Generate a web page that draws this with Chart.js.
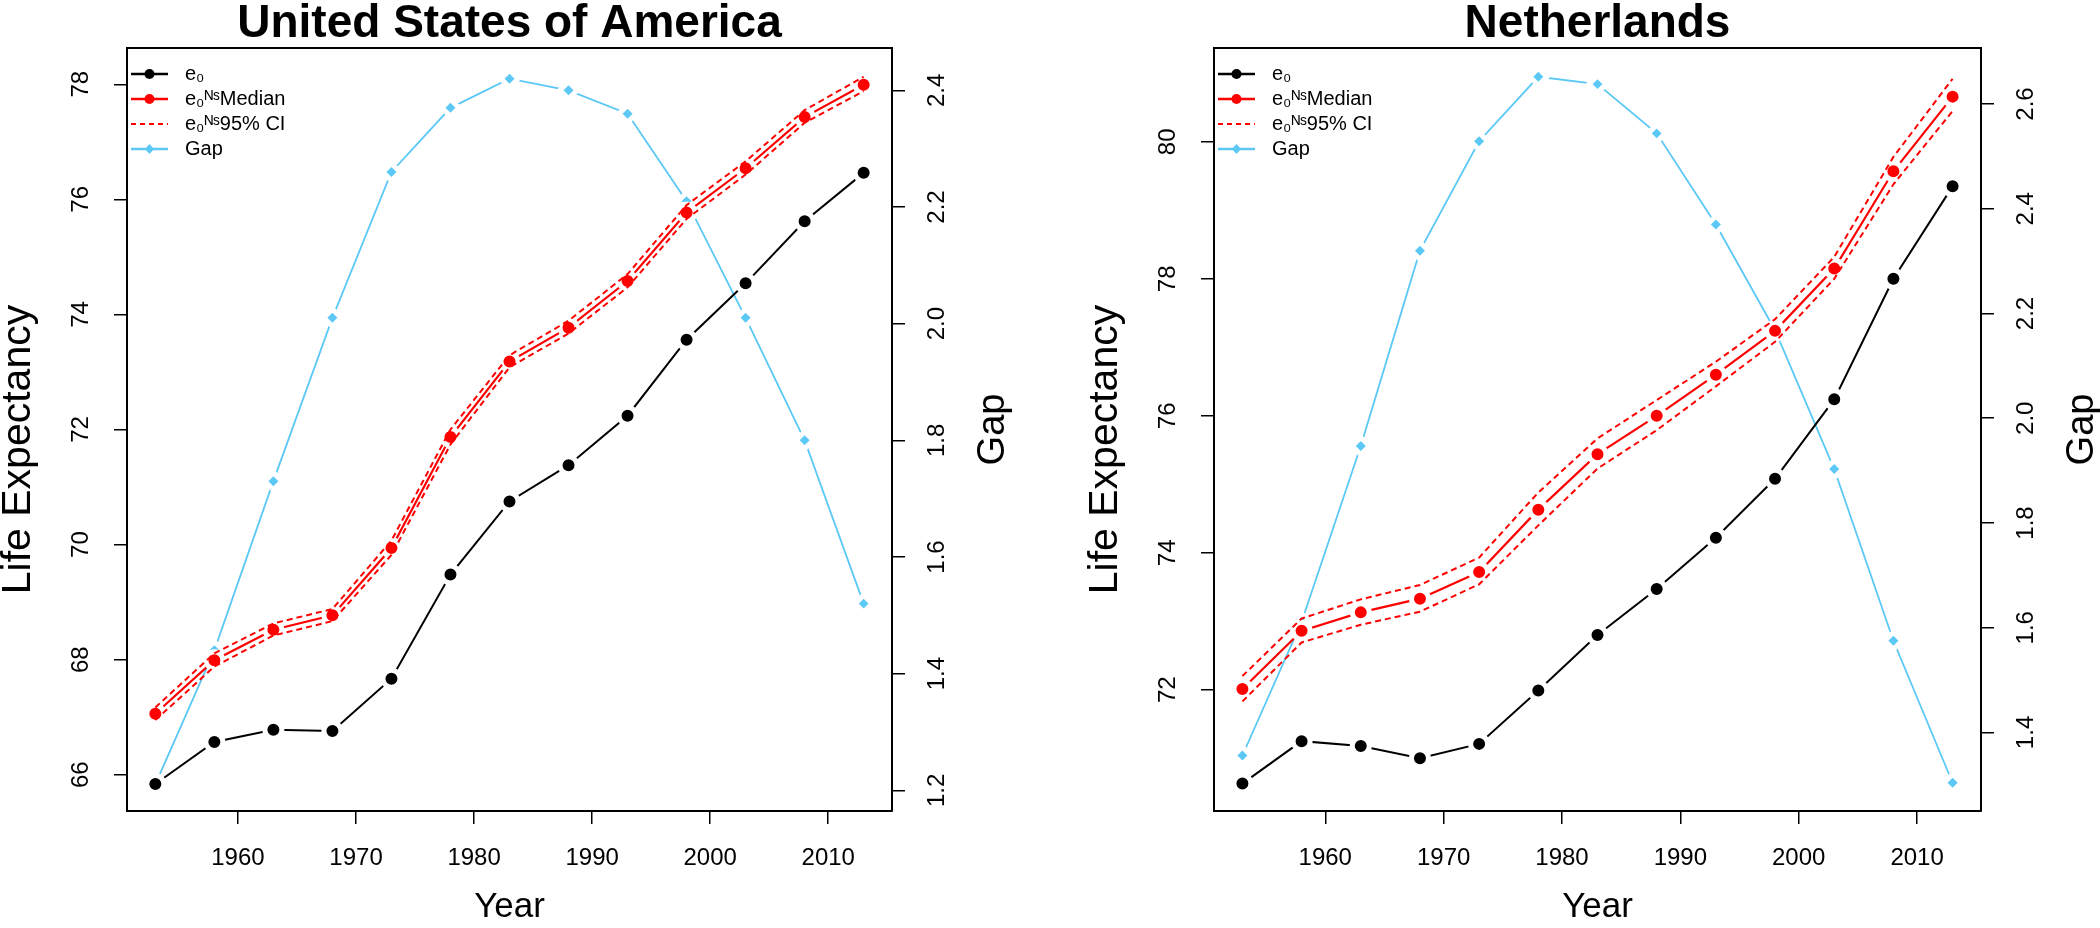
<!DOCTYPE html>
<html>
<head>
<meta charset="utf-8">
<script src="https://cdn.jsdelivr.net/npm/chart.js@4.4.1/dist/chart.umd.min.js"></script>
<style>
  html, body { margin: 0; padding: 0; background: #fff; }
  #wrap { position: relative; width: 2100px; height: 928px; }
  .panel { position: absolute; top: 0; width: 1050px; height: 928px; }
  #panel-usa { left: 0; }
  #panel-nld { left: 1050px; }
</style>
</head>
<body>
<div id="wrap">
  <div class="panel" id="panel-usa"><canvas id="chart-usa" width="1050" height="928"></canvas></div>
  <div class="panel" id="panel-nld"><canvas id="chart-nld" width="1050" height="928"></canvas></div>
</div>
<script>
// Life expectancy vs. NS-projected life expectancy, two countries
const YEARS      = [1953, 1958, 1963, 1968, 1973, 1978, 1983, 1988, 1993, 1998, 2003, 2008, 2013];
const YEAR_TICKS = [1960, 1970, 1980, 1990, 2000, 2010];

// United States of America
const US_E0     = [65.84, 66.57, 66.78, 66.76, 67.67, 69.48, 70.75, 71.38, 72.24, 73.56, 74.54, 75.62, 76.46];
const US_MEDIAN = [67.06, 67.99, 68.52, 68.77, 69.94, 71.87, 73.18, 73.77, 74.58, 75.77, 76.54, 77.43, 77.99];
const US_LOWER  = [66.95, 67.88, 68.42, 68.67, 69.82, 71.74, 73.08, 73.67, 74.47, 75.66, 76.43, 77.33, 77.88];
const US_UPPER  = [67.17, 68.11, 68.63, 68.88, 70.07, 72.00, 73.29, 73.89, 74.70, 75.90, 76.66, 77.55, 78.13];
const US_GAP    = [1.21, 1.44, 1.73, 2.01, 2.26, 2.37, 2.42, 2.40, 2.36, 2.21, 2.01, 1.80, 1.52];
const US_LEFT_TICKS  = [66, 68, 70, 72, 74, 76, 78];
const US_RIGHT_TICKS = [1.2, 1.4, 1.6, 1.8, 2.0, 2.2, 2.4];

// Netherlands
const NL_E0     = [70.63, 71.25, 71.18, 71.00, 71.21, 71.99, 72.80, 73.47, 74.22, 75.08, 76.24, 78.00, 79.35];
const NL_MEDIAN = [72.01, 72.86, 73.13, 73.33, 73.72, 74.63, 75.44, 76.00, 76.60, 77.24, 78.15, 79.57, 80.66];
const NL_LOWER  = [71.83, 72.69, 72.95, 73.14, 73.54, 74.40, 75.23, 75.79, 76.43, 77.08, 78.00, 79.38, 80.45];
const NL_UPPER  = [72.20, 73.04, 73.32, 73.53, 73.93, 74.88, 75.67, 76.23, 76.79, 77.41, 78.32, 79.78, 80.92];
const NL_GAP    = [1.356, 1.611, 1.947, 2.32, 2.529, 2.652, 2.638, 2.544, 2.37, 2.168, 1.903, 1.575, 1.304];
const NL_LEFT_TICKS  = [72, 74, 76, 78, 80];
const NL_RIGHT_TICKS = [1.4, 1.6, 1.8, 2.0, 2.2, 2.4, 2.6];

const LEGEND_TEXT = ['e\u2080', 'e\u2080\u1D3A\u02E2Median', 'e\u2080\u1D3A\u02E295% CI', 'Gap'];

const FONT = "'Liberation Sans', Arial, Helvetica, sans-serif";
const COLORS = { e0: '#000000', median: '#FF0000', gap: '#5BC8F5' };

function pts(values) {
  return YEARS.map((x, i) => ({ x, y: values[i] }));
}

function legendIcon(kind, color) {
  const c = document.createElement('canvas');
  c.width = 47; c.height = 14;
  const g = c.getContext('2d');
  g.strokeStyle = color; g.fillStyle = color;
  g.lineWidth = kind === 'dash' ? 2 : 2.5;
  if (kind === 'dash') g.setLineDash([5, 4]);
  g.beginPath(); g.moveTo(1, 7); g.lineTo(38, 7); g.stroke();
  g.setLineDash([]);
  if (kind === 'dot') {
    g.beginPath(); g.arc(19.5, 7, 5, 0, Math.PI * 2); g.fill();
  } else if (kind === 'diamond') {
    g.beginPath(); g.moveTo(19.5, 2); g.lineTo(24, 7); g.lineTo(19.5, 12); g.lineTo(15, 7); g.closePath(); g.fill();
  }
  return c;
}

// both side titles read bottom-to-top, as in R, so they are drawn here
const sideTitles = {
  id: 'sideTitles',
  afterDraw(chart, _args, opts) {
    const { ctx, chartArea } = chart;
    const midY = (chartArea.top + chartArea.bottom) / 2;
    const put = (text, size, x, y) => {
      ctx.save();
      ctx.translate(x, y);
      ctx.rotate(-Math.PI / 2);
      ctx.font = `${size}px ${FONT}`;
      ctx.fillStyle = '#000';
      ctx.textAlign = 'center';
      ctx.textBaseline = 'middle';
      ctx.fillText(text, 0, 0);
      ctx.restore();
    };
    put(opts.left, opts.leftSize, chartArea.left - 108, midY + opts.leftShift);
    put(opts.right, opts.rightSize, chartArea.right + 102, midY);
  },
};

function axisTicks(values) {
  return s => { s.ticks = values.map(v => ({ value: v })); };
}

function legendItem(text, kind, color, datasetIndex) {
  return { text, pointStyle: legendIcon(kind, color), fillStyle: color, strokeStyle: color,
           fontColor: '#000', lineWidth: 0, hidden: false, datasetIndex };
}

function buildChart(canvasId, p) {
  const tickGrid = { display: true, drawOnChartArea: false, drawTicks: true, tickLength: 13, color: '#000', lineWidth: 1.5 };
  const frame = { display: true, color: '#000', width: 2 };
  const tickFont = { family: FONT, size: 24, lineHeight: 1 };

  return new Chart(document.getElementById(canvasId), {
    type: 'line',
    data: {
      datasets: [
        { label: 'e0', data: pts(p.e0), yAxisID: 'y', borderColor: COLORS.e0, borderWidth: 2,
          pointRadius: 8.5, pointBorderWidth: 5, pointBorderColor: '#fff', pointBackgroundColor: COLORS.e0 },
        { label: 'lower', data: pts(p.lower), yAxisID: 'y', borderColor: COLORS.median, borderWidth: 2,
          borderDash: [6, 4], pointRadius: 0 },
        { label: 'upper', data: pts(p.upper), yAxisID: 'y', borderColor: COLORS.median, borderWidth: 2,
          borderDash: [6, 4], pointRadius: 0 },
        { label: 'median', data: pts(p.median), yAxisID: 'y', borderColor: COLORS.median, borderWidth: 2.2,
          pointRadius: 8.5, pointBorderWidth: 5, pointBorderColor: '#fff', pointBackgroundColor: COLORS.median },
        { label: 'Gap', data: pts(p.gap), yAxisID: 'y2', borderColor: COLORS.gap, borderWidth: 1.8,
          pointStyle: 'rectRot', pointRadius: 8.5, pointBorderWidth: 5, pointBorderColor: '#fff', pointBackgroundColor: COLORS.gap },
      ],
    },
    options: {
      responsive: false,
      animation: false,
      devicePixelRatio: 1,
      events: [],
      layout: { padding: 0 },
      plugins: {
        tooltip: { enabled: false },
        title: {
          display: true, text: p.title, color: '#000', fullSize: false,
          font: { family: FONT, size: 46, weight: 'bold', lineHeight: 0.8 },
          padding: { top: 5.6, bottom: 5.6 },
        },
        legend: {
          position: 'chartArea',
          align: 'start',
          // the chartArea legend is laid out from the canvas top; the empty title pushes it into the frame
          title: { display: true, text: '', font: { size: 59, lineHeight: 1 }, padding: 0 },
          labels: {
            color: '#000',
            font: { family: FONT, size: 20 },
            padding: 5,
            usePointStyle: true,
            pointStyleWidth: 43,
            generateLabels: () => [
              legendItem(LEGEND_TEXT[0], 'dot', COLORS.e0, 0),
              legendItem(LEGEND_TEXT[1], 'dot', COLORS.median, 3),
              legendItem(LEGEND_TEXT[2], 'dash', COLORS.median, 1),
              legendItem(LEGEND_TEXT[3], 'diamond', COLORS.gap, 4),
            ],
          },
        },
        sideTitles: { left: 'Life Expectancy', leftSize: 41, leftShift: 20, right: 'Gap', rightSize: 38 },
      },
      scales: {
        x: {
          type: 'linear', position: 'bottom', min: 1950.6, max: 2015.4,
          afterBuildTicks: axisTicks(YEAR_TICKS),
          afterFit: s => { s.height = 117; },
          grid: tickGrid, border: frame,
          ticks: { color: '#000', font: tickFont, padding: 22, maxRotation: 0, autoSkip: false, callback: v => String(v) },
          title: { display: true, text: 'Year', color: '#000', font: { family: FONT, size: 35, lineHeight: 1 }, padding: { top: 0, bottom: 3 } },
        },
        xTop: {
          type: 'linear', position: 'top', min: 1950.6, max: 2015.4,
          afterFit: s => { s.height = 0; },
          grid: { display: false }, ticks: { display: false }, border: frame,
        },
        y: {
          type: 'linear', position: 'left', min: p.leftMin, max: p.leftMax,
          afterBuildTicks: axisTicks(p.leftTicks),
          afterFit: s => { s.width = p.leftW; },
          grid: tickGrid, border: frame,
          ticks: { color: '#000', font: tickFont, padding: 19, minRotation: 90, maxRotation: 90, crossAlign: 'center', autoSkip: false, callback: v => String(v) },
        },
        y2: {
          type: 'linear', position: 'right', min: p.rightMin, max: p.rightMax,
          afterBuildTicks: axisTicks(p.rightTicks),
          afterFit: s => { s.width = p.rightW; },
          grid: tickGrid, border: frame,
          ticks: { color: '#000', font: tickFont, padding: 16, minRotation: 90, maxRotation: 90, crossAlign: 'center', autoSkip: false, callback: v => v.toFixed(1) },
        },
      },
    },
    plugins: [sideTitles],
  });
}

buildChart('chart-usa', {
  title: 'United States of America',
  e0: US_E0, median: US_MEDIAN, lower: US_LOWER, upper: US_UPPER, gap: US_GAP,
  leftMin: 65.37, leftMax: 78.63, leftTicks: US_LEFT_TICKS,
  rightMin: 1.1645, rightMax: 2.4726, rightTicks: US_RIGHT_TICKS,
  leftW: 127, rightW: 158,
});

buildChart('chart-nld', {
  title: 'Netherlands',
  e0: NL_E0, median: NL_MEDIAN, lower: NL_LOWER, upper: NL_UPPER, gap: NL_GAP,
  leftMin: 70.23, leftMax: 81.37, leftTicks: NL_LEFT_TICKS,
  rightMin: 1.25, rightMax: 2.707, rightTicks: NL_RIGHT_TICKS,
  leftW: 164, rightW: 119,
});
</script>
</body>
</html>
